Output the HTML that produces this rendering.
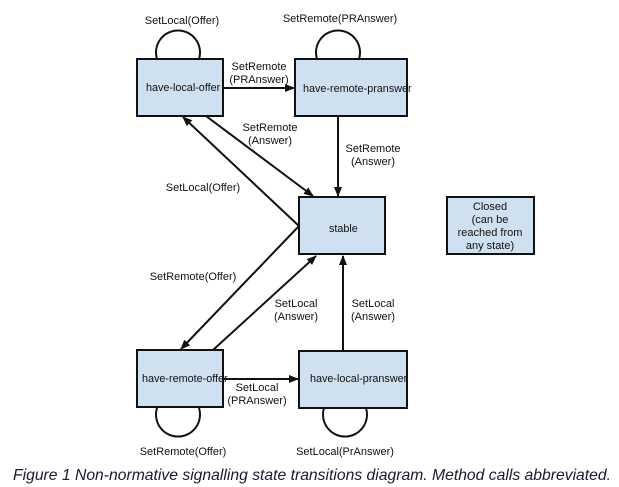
<!DOCTYPE html>
<html><head><meta charset="utf-8"><style>
html,body{margin:0;padding:0;background:#fff;width:619px;height:487px;overflow:hidden}
svg{display:block}
text{font-family:"Liberation Sans",sans-serif;font-size:11px;fill:#111}
.b{fill:#cfe0f1;stroke:#111;stroke-width:2}
.l{stroke:#111;stroke-width:2;fill:none}
.bt{font-size:10.8px}
</style></head><body>
<svg width="619" height="487" viewBox="0 0 619 487">
<defs><marker id="a" markerWidth="10" markerHeight="8" refX="9" refY="4" orient="auto" markerUnits="userSpaceOnUse"><path d="M0,0 L10,4 L0,8 z" fill="#111"/></marker></defs>
<!-- loops -->
<path class="l" d="M157,59 A22,22 0 1 1 199,59"/>
<path class="l" d="M317,59 A22,22 0 1 1 359,59"/>
<path class="l" d="M157,408 A22,22 0 1 0 199,408"/>
<path class="l" d="M324,408 A22,22 0 1 0 366,408"/>
<!-- boxes -->
<rect class="b" x="137" y="59" width="86" height="57"/>
<rect class="b" x="295" y="59" width="112" height="57"/>
<rect class="b" x="299" y="197" width="86" height="57"/>
<rect class="b" x="447" y="197" width="87" height="57"/>
<rect class="b" x="137" y="350" width="86" height="57"/>
<rect class="b" x="299" y="351" width="108" height="57"/>
<!-- arrows -->
<line class="l" x1="223" y1="88" x2="294" y2="88" marker-end="url(#a)"/>
<line class="l" x1="338" y1="116" x2="338" y2="196" marker-end="url(#a)"/>
<line class="l" x1="206" y1="116" x2="313" y2="196" marker-end="url(#a)"/>
<line class="l" x1="299" y1="226" x2="183" y2="117" marker-end="url(#a)"/>
<line class="l" x1="299" y1="226" x2="181" y2="349" marker-end="url(#a)"/>
<line class="l" x1="213" y1="350" x2="316" y2="256" marker-end="url(#a)"/>
<line class="l" x1="343" y1="351" x2="343" y2="256" marker-end="url(#a)"/>
<line class="l" x1="223" y1="379" x2="298" y2="379" marker-end="url(#a)"/>
<!-- box labels -->
<text class="bt" x="146" y="91">have-local-offer</text>
<text class="bt" x="303" y="92">have-remote-pranswer</text>
<text class="bt" x="329" y="232">stable</text>
<text class="bt" x="142" y="382">have-remote-offer</text>
<text class="bt" x="310" y="382">have-local-pranswer</text>
<g text-anchor="middle"><text x="490" y="210">Closed</text><text x="490" y="223">(can be</text><text x="490" y="236">reached from</text><text x="490" y="249">any state)</text>
<!-- edge labels -->
<text x="182" y="24">SetLocal(Offer)</text>
<text x="340" y="22">SetRemote(PRAnswer)</text>
<text x="259" y="70">SetRemote</text><text x="259" y="83">(PRAnswer)</text>
<text x="270" y="131">SetRemote</text><text x="270" y="144">(Answer)</text>
<text x="373" y="152">SetRemote</text><text x="373" y="165">(Answer)</text>
<text x="203" y="191">SetLocal(Offer)</text>
<text x="193" y="280">SetRemote(Offer)</text>
<text x="296" y="307">SetLocal</text><text x="296" y="320">(Answer)</text>
<text x="373" y="307">SetLocal</text><text x="373" y="320">(Answer)</text>
<text x="257" y="391">SetLocal</text><text x="257" y="404">(PRAnswer)</text>
<text x="183" y="455">SetRemote(Offer)</text>
<text x="345" y="455">SetLocal(PrAnswer)</text></g>
<text x="13" y="480" style="font-size:15.8px;font-style:italic;fill:#1a1a2e" textLength="598" lengthAdjust="spacingAndGlyphs">Figure 1 Non-normative signalling state transitions diagram. Method calls abbreviated.</text>
</svg>
</body></html>
